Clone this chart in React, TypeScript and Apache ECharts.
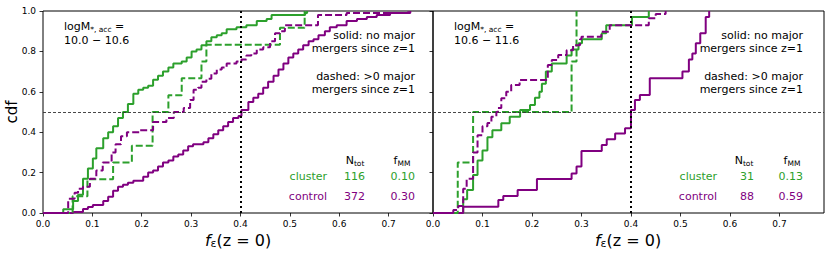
import React, { useEffect, useRef } from "react";
import * as echarts from "echarts";

// ---------- data ----------
const xTickValues = [0, 0.1, 0.2, 0.3, 0.4, 0.5, 0.6, 0.7];
const yTickValues = [0, 0.2, 0.4, 0.6, 0.8, 1.0];

// Left panel: logM = 10.0 - 10.6
const leftClusterSolid = [
  [0, 0], [0.041, 0.018], [0.061, 0.06], [0.071, 0.09], [0.081, 0.17], [0.091, 0.22], [0.101, 0.27],
  [0.108, 0.32], [0.122, 0.37], [0.132, 0.40], [0.142, 0.43], [0.152, 0.47], [0.162, 0.50], [0.172, 0.54],
  [0.183, 0.59], [0.193, 0.61], [0.203, 0.62], [0.213, 0.63], [0.223, 0.66], [0.233, 0.68], [0.243, 0.70],
  [0.254, 0.72], [0.264, 0.74], [0.281, 0.75], [0.291, 0.77], [0.301, 0.80], [0.311, 0.81], [0.321, 0.83],
  [0.331, 0.85], [0.341, 0.87], [0.352, 0.88], [0.362, 0.89], [0.372, 0.91], [0.392, 0.92], [0.412, 0.93],
  [0.433, 0.95], [0.453, 0.96], [0.463, 0.98], [0.531, 0.99], [0.535, 1.0],
];
const leftClusterDashed = [
  [0, 0], [0.06, 0.083], [0.09, 0.167], [0.142, 0.25], [0.18, 0.333], [0.222, 0.5], [0.254, 0.583],
  [0.281, 0.667], [0.321, 0.75], [0.331, 0.833], [0.48, 0.917], [0.53, 1.0],
];
const leftControlSolid = [
  [0, 0], [0.061, 0.005], [0.081, 0.02], [0.091, 0.03], [0.101, 0.04], [0.122, 0.06], [0.132, 0.08],
  [0.142, 0.11], [0.152, 0.13], [0.162, 0.14], [0.172, 0.15], [0.183, 0.16], [0.203, 0.18], [0.213, 0.20],
  [0.223, 0.21], [0.233, 0.23], [0.243, 0.25], [0.254, 0.26], [0.264, 0.28], [0.274, 0.29], [0.284, 0.31],
  [0.294, 0.33], [0.304, 0.34], [0.325, 0.35], [0.335, 0.37], [0.345, 0.39], [0.355, 0.41], [0.365, 0.43],
  [0.375, 0.45], [0.385, 0.47], [0.396, 0.48], [0.402, 0.51], [0.416, 0.55], [0.426, 0.57], [0.436, 0.59],
  [0.446, 0.62], [0.456, 0.65], [0.467, 0.68], [0.477, 0.71], [0.487, 0.74], [0.497, 0.77], [0.507, 0.79],
  [0.517, 0.81], [0.527, 0.83], [0.538, 0.85], [0.548, 0.86], [0.558, 0.88], [0.571, 0.90], [0.581, 0.92],
  [0.595, 0.93], [0.615, 0.95], [0.636, 0.96], [0.656, 0.97], [0.676, 0.98], [0.703, 0.99], [0.744, 1.0],
];
const leftControlDashed = [
  [0, 0], [0.051, 0.07], [0.064, 0.10], [0.071, 0.12], [0.081, 0.13], [0.095, 0.17], [0.108, 0.21],
  [0.121, 0.25], [0.139, 0.30], [0.147, 0.34], [0.158, 0.38], [0.17, 0.40], [0.195, 0.41], [0.223, 0.45],
  [0.25, 0.47], [0.265, 0.50], [0.285, 0.52], [0.298, 0.56], [0.305, 0.61], [0.314, 0.62], [0.321, 0.65],
  [0.331, 0.665], [0.341, 0.69], [0.352, 0.71], [0.362, 0.72], [0.372, 0.74], [0.392, 0.75], [0.402, 0.76],
  [0.412, 0.78], [0.422, 0.79], [0.433, 0.81], [0.446, 0.82], [0.46, 0.85], [0.47, 0.89], [0.48, 0.90],
  [0.49, 0.93], [0.557, 0.98], [0.615, 0.99], [0.74, 1.0],
];

// Right panel: logM = 10.6 - 11.6
const rightClusterSolid = [
  [0, 0], [0.061, 0.068], [0.069, 0.114], [0.081, 0.188], [0.09, 0.26], [0.1, 0.31], [0.11, 0.375],
  [0.12, 0.41], [0.138, 0.444], [0.155, 0.477], [0.176, 0.51], [0.196, 0.535], [0.206, 0.57], [0.215, 0.60],
  [0.22, 0.64], [0.228, 0.70], [0.24, 0.74], [0.27, 0.78], [0.28, 0.81], [0.294, 0.84], [0.301, 0.86],
  [0.341, 0.89], [0.35, 0.93], [0.402, 0.97], [0.436, 1.0],
];
const rightClusterDashed = [[0, 0], [0.05, 0.25], [0.081, 0.5], [0.28, 0.75], [0.29, 1.0]];
const rightControlSolid = [
  [0, 0], [0.061, 0.031], [0.132, 0.064], [0.142, 0.084], [0.171, 0.114], [0.21, 0.168], [0.28, 0.196],
  [0.29, 0.23], [0.3, 0.307], [0.341, 0.337], [0.351, 0.365], [0.368, 0.394], [0.388, 0.42], [0.4, 0.51],
  [0.408, 0.56], [0.418, 0.584], [0.438, 0.667], [0.504, 0.70], [0.517, 0.76], [0.524, 0.79],
  [0.531, 0.84], [0.54, 0.89], [0.551, 0.97], [0.558, 1.0],
];
const rightControlDashed = [
  [0, 0], [0.041, 0.015], [0.051, 0.035], [0.061, 0.12], [0.068, 0.17], [0.081, 0.30], [0.09, 0.385],
  [0.1, 0.43], [0.11, 0.445], [0.118, 0.477], [0.128, 0.50], [0.131, 0.52], [0.138, 0.568], [0.148, 0.60],
  [0.158, 0.634], [0.175, 0.658], [0.232, 0.733], [0.24, 0.757], [0.253, 0.782], [0.27, 0.806],
  [0.283, 0.831], [0.297, 0.86], [0.3, 0.872], [0.34, 0.897], [0.357, 0.93], [0.436, 0.964], [0.45, 0.985],
  [0.47, 1.0],
];

const panelRanges = ["10.0 \u2212 10.6", "10.6 \u2212 11.6"];
const nTot = ["116", "372", "31", "88"];
const fMM = ["0.10", "0.30", "0.13", "0.59"];
const groupNames = ["cluster", "control"];

const GREEN = "#2ca02c";
const PURPLE = "#800080";
const FONT = "DejaVu Sans";

export default function App() {
  const ref = useRef<HTMLDivElement>(null);

  useEffect(() => {
    if (!ref.current) return;
    const chart = echarts.init(ref.current, null, { renderer: "svg" });

    const grids = [
      { left: 43, top: 11, width: 390, height: 202 },
      { left: 433, top: 11, width: 391, height: 202 },
    ].map((g) => ({ ...g, show: true, borderColor: "#000", borderWidth: 1, backgroundColor: "transparent" }));

    const xAxes = [0, 1].map((i) => ({
      type: "value",
      gridIndex: i,
      min: 0,
      max: 0.79,
      interval: 0.1,
      axisLine: { show: false },
      splitLine: { show: false },
      axisTick: { show: true, length: 3.5, customValues: xTickValues, lineStyle: { color: "#000", width: 0.8 } },
      axisLabel: {
        customValues: xTickValues,
        formatter: (v: number) => v.toFixed(1),
        color: "#000",
        fontFamily: FONT,
        fontSize: 9,
        margin: 6,
      },
    }));

    const yAxes = [0, 1].map((i) => ({
      type: "value",
      gridIndex: i,
      min: 0,
      max: 1,
      interval: 0.2,
      axisLine: { show: false },
      splitLine: { show: false },
      axisTick: { show: true, length: 3.5, customValues: yTickValues, lineStyle: { color: "#000", width: 0.8 } },
      axisLabel: {
        show: i === 0,
        customValues: yTickValues,
        formatter: (v: number) => v.toFixed(1),
        color: "#000",
        fontFamily: FONT,
        fontSize: 9,
        margin: 7,
      },
    }));

    const step = (data: number[][], color: string, dashed: boolean, idx: number) => ({
      type: "line",
      xAxisIndex: idx,
      yAxisIndex: idx,
      data,
      step: "end",
      symbol: "none",
      silent: true,
      lineStyle: { color, width: 2, type: dashed ? [7, 3] : "solid" },
      z: dashed ? 3 : 2,
    });

    const refLines = (idx: number) => ({
      type: "line",
      xAxisIndex: idx,
      yAxisIndex: idx,
      data: [],
      silent: true,
      z: 5,
      markLine: {
        silent: true,
        symbol: ["none", "none"],
        label: { show: false },
        animation: false,
        data: [
          { yAxis: 0.5, lineStyle: { color: "#333", width: 0.9, type: [3, 2] } },
          { xAxis: 0.4, lineStyle: { color: "#000", width: 2, type: [2, 3] } },
        ],
      },
    });

    const series = [
      step(leftClusterSolid, GREEN, false, 0),
      step(leftControlSolid, PURPLE, false, 0),
      step(leftClusterDashed, GREEN, true, 0),
      step(leftControlDashed, PURPLE, true, 0),
      refLines(0),
      step(rightClusterSolid, GREEN, false, 1),
      step(rightControlSolid, PURPLE, false, 1),
      step(rightClusterDashed, GREEN, true, 1),
      step(rightControlDashed, PURPLE, true, 1),
      refLines(1),
    ];

    const txt = (x: number, y: number, text: string, opts: any = {}) => ({
      type: "text",
      x,
      y,
      silent: true,
      z: 10,
      style: {
        text,
        fill: "#000",
        fontFamily: FONT,
        fontSize: 11,
        align: "right",
        verticalAlign: "middle",
        ...opts,
      },
    });

    const subRich = {
      m: { fontFamily: FONT, fontSize: 11, lineHeight: 14, color: "#000" },
      s: { fontFamily: FONT, fontSize: 7.5, lineHeight: 10, verticalAlign: "bottom", color: "#000" },
    };

    const graphic: any[] = [];
    const panelLeft = [43, 433];
    const rightEdge = [415, 803];
    const clusterRight = [327, 717];
    const nRight = [365, 754];
    const nCenter = [355, 744];
    const fCenter = [402, 792];
    [0, 1].forEach((p) => {
      graphic.push({
        type: "text",
        x: panelLeft[p] + 21,
        y: 19,
        silent: true,
        z: 10,
        style: {
          text: `{m|logM}{s|*, acc}{m| =}\n{m|${panelRanges[p]}}`,
          rich: subRich,
          align: "left",
          verticalAlign: "top",
          fontFamily: FONT,
        },
      });
      graphic.push(txt(rightEdge[p], 35, "solid: no major"));
      graphic.push(txt(rightEdge[p], 48.5, "mergers since z=1"));
      graphic.push(txt(rightEdge[p], 76, "dashed: >0 major"));
      graphic.push(txt(rightEdge[p], 89.5, "mergers since z=1"));
      graphic.push({
        type: "text",
        x: nCenter[p],
        y: 160,
        silent: true,
        z: 10,
        style: {
          text: "{m|N}{s|tot}",
          rich: subRich,
          align: "center",
          verticalAlign: "middle",
          fontFamily: FONT,
        },
      });
      graphic.push({
        type: "text",
        x: fCenter[p],
        y: 160,
        silent: true,
        z: 10,
        style: {
          text: "{m|f}{s|MM}",
          rich: subRich,
          align: "center",
          verticalAlign: "middle",
          fontFamily: FONT,
        },
      });
      [0, 1].forEach((g) => {
        const color = g === 0 ? GREEN : PURPLE;
        const y = g === 0 ? 176.5 : 196.5;
        graphic.push(txt(clusterRight[p], y, groupNames[g], { fill: color }));
        graphic.push(txt(nRight[p], y, nTot[p * 2 + g], { fill: color }));
        graphic.push(txt(rightEdge[p], y, fMM[p * 2 + g], { fill: color }));
      });
      graphic.push({
        type: "text",
        x: panelLeft[p] + 195,
        y: 240,
        silent: true,
        z: 10,
        style: {
          text: "{i|f}{s|\u03b5}{n|(z = 0)}",
          rich: {
            i: { fontFamily: FONT, fontSize: 16, fontStyle: "italic", lineHeight: 17, color: "#000" },
            s: { fontFamily: FONT, fontSize: 11, lineHeight: 11, verticalAlign: "bottom", color: "#000" },
            n: { fontFamily: FONT, fontSize: 16, lineHeight: 17, color: "#000" },
          },
          align: "center",
          verticalAlign: "middle",
          fontFamily: FONT,
        },
      });
    });
    graphic.push({
      type: "text",
      x: 12,
      y: 112,
      rotation: Math.PI / 2,
      silent: true,
      z: 10,
      style: {
        text: "cdf",
        fill: "#000",
        fontFamily: FONT,
        fontSize: 15,
        align: "center",
        verticalAlign: "middle",
      },
    });

    chart.setOption({
      animation: false,
      grid: grids,
      xAxis: xAxes,
      yAxis: yAxes,
      series,
      graphic,
    });

    return () => chart.dispose();
  }, []);

  return (
    <div
      ref={ref}
      style={{ position: "absolute", left: 0, top: 0, width: 830, height: 256, background: "#fff" }}
    />
  );
}
